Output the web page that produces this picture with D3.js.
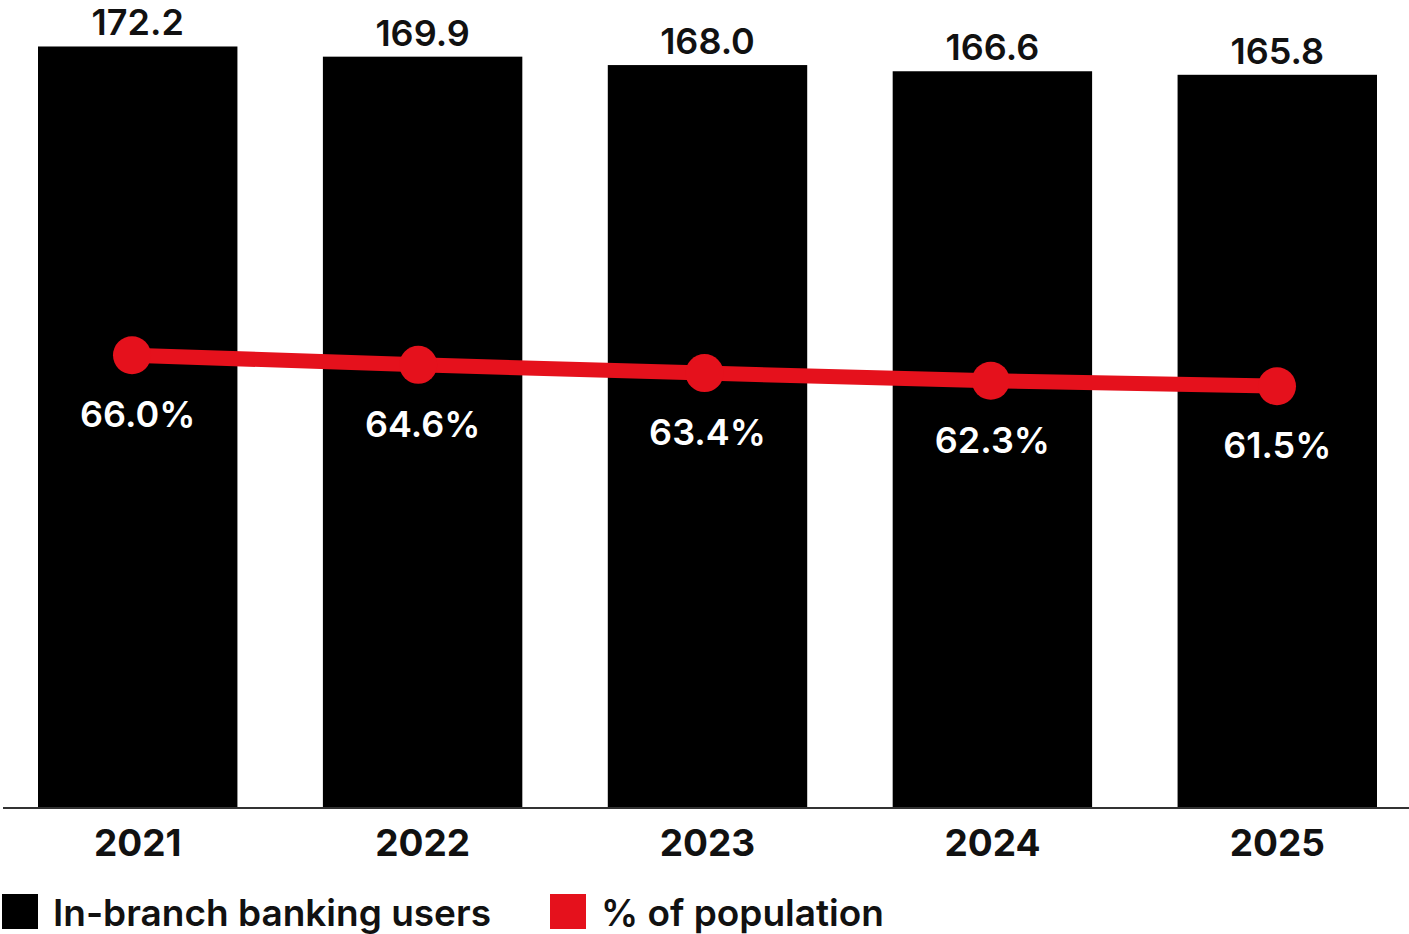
<!DOCTYPE html>
<html>
<head>
<meta charset="utf-8">
<script src="https://cdn.jsdelivr.net/npm/d3@7"></script>
<style>
  body { margin: 0; background: #fff; }
  svg { display: block; font-family: Inter, "Open Sans", sans-serif; }
</style>
</head>
<body>
<svg id="chart" width="1409" height="934"></svg>
<script>
const years = ['2021', '2022', '2023', '2024', '2025'];
const users = [172.2, 169.9, 168.0, 166.6, 165.8];
const pctPopulation = [66.0, 64.6, 63.4, 62.3, 61.5];
const legendLabels = ['In-branch banking users', '% of population'];

const RED = '#e5111c';
const svg = d3.select('#chart');

// Scales
const x = d3.scaleBand()
  .domain(years)
  .range([38, 1377])
  .paddingInner(0.3)
  .paddingOuter(0);

const xLine = d3.scalePoint()
  .domain(years)
  .range([132, 1277]);

const y = d3.scaleLinear()
  .domain([0, 180])
  .range([808, 12]);

const yPct = d3.scaleLinear()
  .domain([0, 110])
  .range([810, 52]);

const data = years.map((yr, i) => ({ year: yr, users: users[i], pct: pctPopulation[i] }));

// Bars
svg.selectAll('.bar')
  .data(data)
  .enter()
  .append('rect')
  .attr('class', 'bar')
  .attr('x', d => x(d.year))
  .attr('width', x.bandwidth())
  .attr('y', d => y(d.users))
  .attr('height', d => y(0) - y(d.users))
  .attr('fill', '#000');

// Bar value labels
svg.selectAll('.bar-label')
  .data(data)
  .enter()
  .append('text')
  .attr('x', d => x(d.year) + x.bandwidth() / 2)
  .attr('y', d => y(d.users) - 11)
  .attr('text-anchor', 'middle')
  .attr('font-size', 36)
  .attr('font-weight', 600)
  .attr('fill', '#111')
  .text(d => d.users.toFixed(1));

// Baseline axis
const axis = svg.append('g')
  .attr('transform', 'translate(0,' + y(0) + ')')
  .call(d3.axisBottom(x).tickSize(0).tickPadding(22));
axis.select('.domain')
  .attr('d', 'M3,0H1409')
  .attr('stroke', '#333')
  .attr('stroke-width', 2);
axis.selectAll('text')
  .attr('font-size', 37)
  .attr('font-weight', 700)
  .attr('font-family', 'Inter, "Open Sans", sans-serif')
  .attr('fill', '#111');

// Line
const line = d3.line()
  .x(d => xLine(d.year))
  .y(d => yPct(d.pct));

svg.append('path')
  .datum(data)
  .attr('d', line)
  .attr('fill', 'none')
  .attr('stroke', RED)
  .attr('stroke-width', 15);

svg.selectAll('.dot')
  .data(data)
  .enter()
  .append('circle')
  .attr('cx', d => xLine(d.year))
  .attr('cy', d => yPct(d.pct))
  .attr('r', 19)
  .attr('fill', RED);

svg.selectAll('.pct-label')
  .data(data)
  .enter()
  .append('text')
  .attr('x', d => x(d.year) + x.bandwidth() / 2)
  .attr('y', d => yPct(d.pct) + 72)
  .attr('text-anchor', 'middle')
  .attr('font-size', 36)
  .attr('font-weight', 600)
  .attr('fill', '#fff')
  .text(d => d.pct.toFixed(1) + '%');

// Legend
const legendColors = ['#000', RED];
const legendX = [2, 550];
const legend = svg.selectAll('.legend')
  .data(legendLabels)
  .enter()
  .append('g')
  .attr('transform', (d, i) => 'translate(' + legendX[i] + ',894)');

legend.append('rect')
  .attr('width', 36)
  .attr('height', 35)
  .attr('fill', (d, i) => legendColors[i]);

legend.append('text')
  .attr('x', 51)
  .attr('y', 32)
  .attr('font-size', 37)
  .attr('font-weight', 600)
  .attr('fill', '#111')
  .text(d => d);
</script>
</body>
</html>
